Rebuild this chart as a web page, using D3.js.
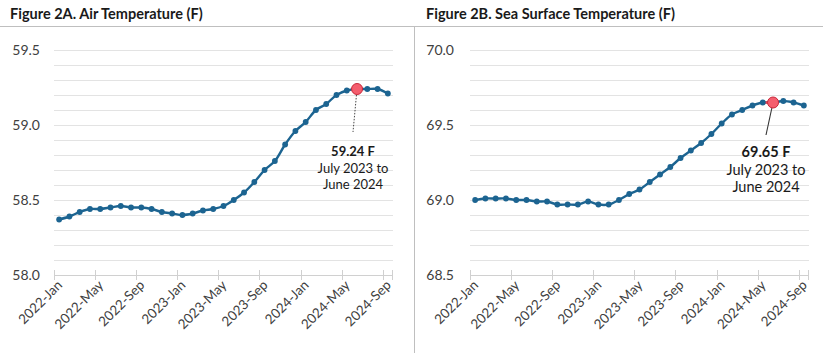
<!DOCTYPE html>
<html>
<head>
<meta charset="utf-8">
<script src="https://cdn.jsdelivr.net/npm/d3@7"></script>
<style>
  html, body { margin: 0; padding: 0; background: #fff; }
  svg { display: block; font-family: Lato, "Open Sans", sans-serif; }
</style>
</head>
<body>
<svg id="chart" width="823" height="353"></svg>
<script>
const months = [
  "2022-Jan","2022-Feb","2022-Mar","2022-Apr","2022-May","2022-Jun","2022-Jul","2022-Aug","2022-Sep","2022-Oct","2022-Nov","2022-Dec",
  "2023-Jan","2023-Feb","2023-Mar","2023-Apr","2023-May","2023-Jun","2023-Jul","2023-Aug","2023-Sep","2023-Oct","2023-Nov","2023-Dec",
  "2024-Jan","2024-Feb","2024-Mar","2024-Apr","2024-May","2024-Jun","2024-Jul","2024-Aug","2024-Sep"
];
const airTemp = [
  58.37, 58.39, 58.42, 58.44, 58.44, 58.45, 58.46, 58.45, 58.45, 58.44, 58.42, 58.41,
  58.40, 58.41, 58.43, 58.44, 58.46, 58.50, 58.55, 58.62, 58.70, 58.76, 58.87, 58.96,
  59.02, 59.10, 59.14, 59.20, 59.23, 59.24, 59.24, 59.24, 59.21
];
const seaTemp = [
  69.00, 69.01, 69.01, 69.01, 69.00, 69.00, 68.99, 68.99, 68.97, 68.97, 68.97, 68.99,
  68.97, 68.97, 69.00, 69.04, 69.07, 69.12, 69.17, 69.22, 69.28, 69.33, 69.38, 69.44,
  69.51, 69.57, 69.60, 69.63, 69.65, 69.65, 69.66, 69.65, 69.63
];
const xTickLabels = ["2022-Jan","2022-May","2022-Sep","2023-Jan","2023-May","2023-Sep","2024-Jan","2024-May","2024-Sep"];
const airYDomain = [58.0, 59.5];
const seaYDomain = [68.5, 70.0];
const airYLabels = [58.0, 58.5, 59.0, 59.5];
const seaYLabels = [68.5, 69.0, 69.5, 70.0];
const gridSteps = [0,1,2,3,4,5,6,7,8,9,10,11,12,13,14,15];
const highlightMonth = "2024-Jun";
const airNote = ["59.24 F", "July 2023 to", "June 2024"];
const seaNote = ["69.65 F", "July 2023 to", "June 2024"];
const titles = ["Figure 2A. Air Temperature (F)", "Figure 2B. Sea Surface Temperature (F)"];

const svg = d3.select("#chart");
const BLUE = "#1c6491";

// header rule and divider
svg.append("line").attr("x1", 0).attr("x2", 823).attr("y1", 26.5).attr("y2", 26.5)
  .attr("stroke", "#bfbfbf").attr("stroke-width", 1);
svg.append("line").attr("x1", 414.5).attr("x2", 414.5).attr("y1", 26.5).attr("y2", 353)
  .attr("stroke", "#bfbfbf").attr("stroke-width", 1);

function panel(o) {
  const g = svg.append("g");
  g.append("text").attr("x", o.titleX).attr("y", 19).attr("font-size", 14.5).attr("font-weight", "bold")
    .attr("fill", "#1a1a1a").text(o.title);

  const x = d3.scaleBand().domain(months).range([o.x0, o.x1]).padding(0);
  const cx = m => x(m) + x.bandwidth() / 2;
  const y = d3.scaleLinear().domain(o.yDomain).range([275, 50]);

  // gridlines every 0.1
  g.selectAll(".grid").data(gridSteps).join("line")
    .attr("x1", o.x0).attr("x2", o.x1)
    .attr("y1", d => Math.round(y(o.yDomain[0] + d * 0.1)) + 0.5)
    .attr("y2", d => Math.round(y(o.yDomain[0] + d * 0.1)) + 0.5)
    .attr("stroke", d => d === 0 ? "#d0d0d0" : "#e3e3e3").attr("stroke-width", 1);

  // y labels
  g.selectAll(".yl").data(o.yLabels).join("text")
    .attr("x", o.yLabelX).attr("y", d => y(d)).attr("dy", "0.35em")
    .attr("text-anchor", "end").attr("font-size", 14).attr("fill", "#404040")
    .text(d => d3.format(".1f")(d));

  // x ticks at category boundaries
  const tickIdx = xTickLabels.map(l => months.indexOf(l));
  g.selectAll(".xt").data(tickIdx).join("line")
    .attr("x1", i => Math.round(x(months[i])) + 0.5).attr("x2", i => Math.round(x(months[i])) + 0.5)
    .attr("y1", 270).attr("y2", 280).attr("stroke", "#d0d0d0");
  g.append("line").attr("x1", o.x1 - 0.5).attr("x2", o.x1 - 0.5).attr("y1", 270).attr("y2", 280).attr("stroke", "#d0d0d0");

  // x labels
  g.selectAll(".xl").data(xTickLabels).join("text")
    .attr("transform", m => `translate(${cx(m) + 4},${286}) rotate(-45)`)
    .attr("text-anchor", "end").attr("font-size", 13.5).attr("fill", "#404040")
    .text(m => m);

  // line
  const pts = months.map((m, i) => [cx(m), y(o.values[i])]);
  g.append("path").datum(pts)
    .attr("d", d3.line().curve(d3.curveCatmullRom.alpha(0.5)))
    .attr("fill", "none").attr("stroke", BLUE).attr("stroke-width", 2.4);

  const hi = months.indexOf(highlightMonth);
  if (o.redSegment) {
    g.append("path").datum([pts[hi - 1], pts[hi]])
      .attr("d", d3.line()).attr("stroke", "#e8404f").attr("stroke-width", 2.4).attr("fill", "none");
  }

  g.selectAll(".dot").data(pts).join("circle")
    .attr("cx", d => d[0]).attr("cy", d => d[1]).attr("r", 2.9).attr("fill", BLUE);

  // highlight
  const hx = pts[hi][0], hy = pts[hi][1];
  g.append("line").attr("x1", hx).attr("y1", hy).attr("x2", o.noteX).attr("y2", o.leaderY2)
    .attr("stroke", "#333").attr("stroke-width", o.dotted ? 0.9 : 1.1)
    .attr("stroke-dasharray", o.dotted ? "1.5,1.5" : null);
  g.append("circle").attr("cx", hx).attr("cy", hy).attr("r", 5.5)
    .attr("fill", "#f45e6e").attr("stroke", "#c8283a").attr("stroke-width", 1);

  const t = g.append("text").attr("text-anchor", "middle").attr("fill", "#1a1a1a").attr("font-size", o.noteSize);
  o.note.forEach((s, i) => {
    t.append("tspan").attr("x", o.noteX).attr("y", o.noteY + i * o.noteLH)
      .attr("font-weight", i === 0 ? "bold" : "normal").text(s);
  });
}

panel({ title: titles[0], titleX: 10, x0: 54, x1: 393, yDomain: airYDomain, yLabels: airYLabels,
  yLabelX: 40, values: airTemp, note: airNote, noteX: 353, noteY: 156, noteLH: 16.5, noteSize: 13,
  leaderY2: 132, dotted: true, redSegment: false });
panel({ title: titles[1], titleX: 426, x0: 470, x1: 809, yDomain: seaYDomain, yLabels: seaYLabels,
  yLabelX: 454, values: seaTemp, note: seaNote, noteX: 766, noteY: 157, noteLH: 17.5, noteSize: 14.5,
  leaderY2: 135, dotted: false, redSegment: true });
</script>
</body>
</html>
